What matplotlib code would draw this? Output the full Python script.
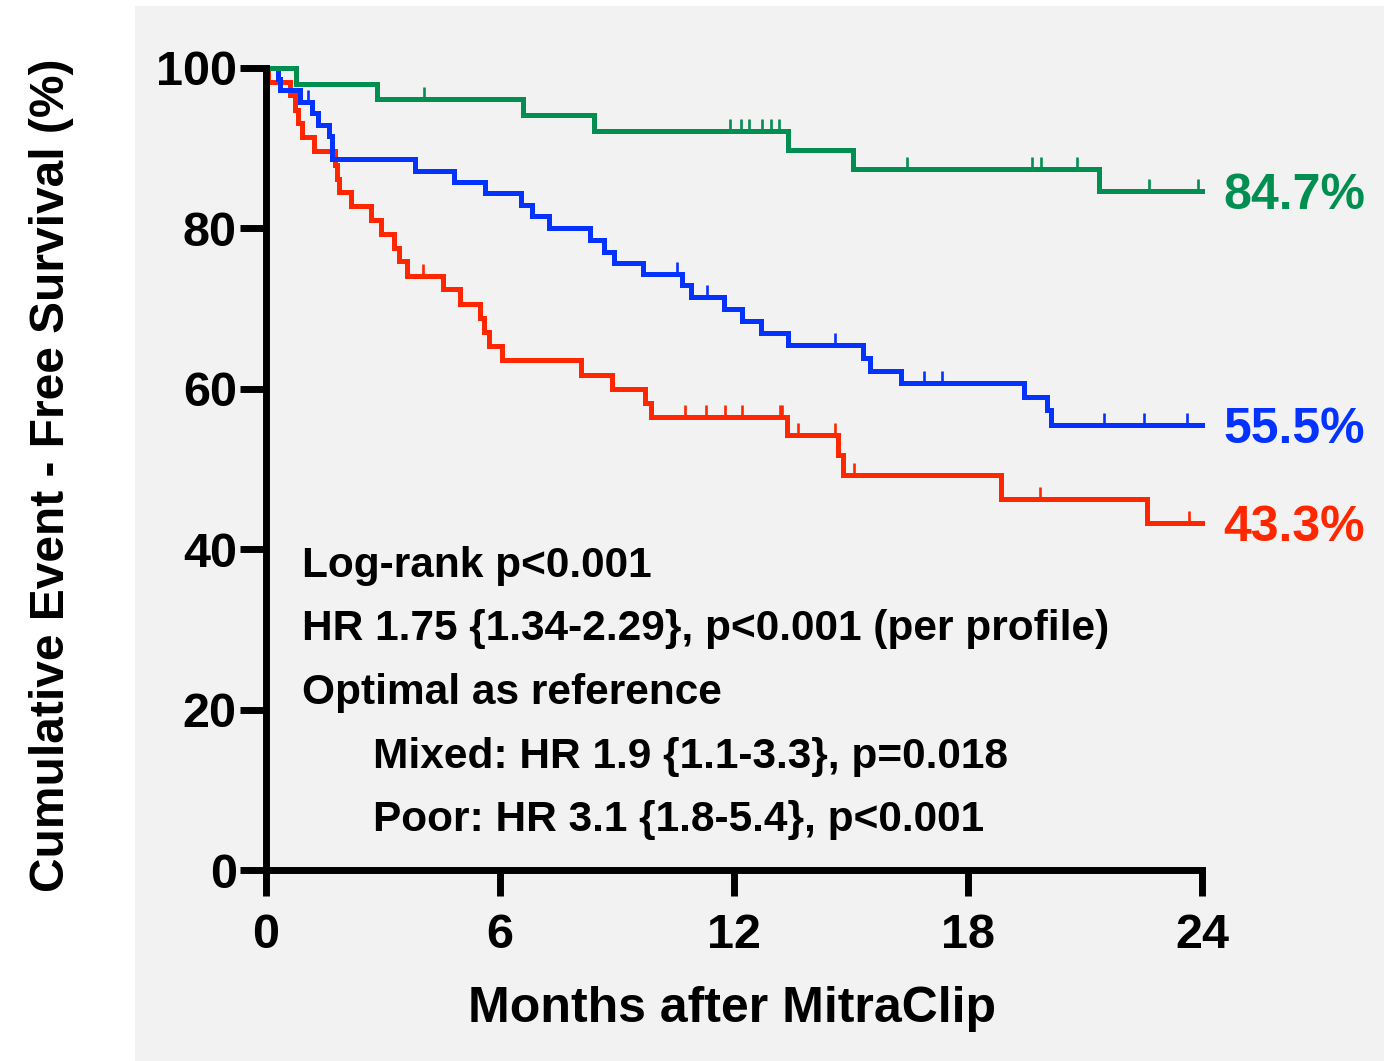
import numpy as np
import matplotlib
matplotlib.use("Agg")
import matplotlib.pyplot as plt
from matplotlib.patches import Rectangle
from matplotlib.transforms import offset_copy

plt.rcParams['font.family'] = ['Liberation Sans', 'DejaVu Sans']
plt.rcParams['font.weight'] = 'bold'

# ---------------- data (months, % event-free) ----------------
optimal_event_t = [0.76, 2.84, 6.60, 8.40, 13.38, 15.05, 21.36]
optimal_event_s = [98.0, 96.1, 94.2, 92.2, 89.8, 87.4, 84.7]
optimal_censor_t = [4.06, 11.91, 12.19, 12.38, 12.71, 12.95, 13.15,
                    16.44, 19.65, 19.88, 20.79, 22.65, 23.89]

mixed_event_t = [0.30, 0.36, 0.87, 1.17, 1.34, 1.62, 1.70, 3.82, 4.81, 5.62,
                 6.54, 6.82, 7.25, 8.30, 8.66, 8.93, 9.67, 10.67, 10.90,
                 11.74, 12.21, 12.70, 13.38, 15.31, 15.48, 16.27, 19.44,
                 20.02, 20.12]
mixed_event_s = [98.6, 97.2, 95.8, 94.4, 92.9, 91.5, 88.7, 87.2, 85.8, 84.4,
                 82.9, 81.5, 80.1, 78.6, 77.1, 75.7, 74.3, 72.9, 71.4,
                 69.9, 68.5, 67.0, 65.5, 63.9, 62.2, 60.7, 59.0,
                 57.3, 55.5]
mixed_censor_t = [1.07, 10.54, 11.31, 14.59, 16.87, 17.34, 21.49, 22.52, 23.61]

poor_event_t = [0.06, 0.62, 0.74, 0.81, 0.92, 1.24, 1.77, 1.81, 1.86, 2.17,
                2.69, 2.94, 3.27, 3.41, 3.61, 4.54, 4.98, 5.49, 5.60, 5.71,
                6.05, 8.07, 8.87, 9.71, 9.86, 13.36, 14.66, 14.80, 18.84,
                22.60]
poor_event_s = [98.3, 96.6, 94.8, 93.1, 91.4, 89.7, 87.9, 86.2, 84.5, 82.8,
                81.0, 79.3, 77.6, 75.9, 74.1, 72.4, 70.6, 68.8, 67.1, 65.3,
                63.6, 61.7, 60.0, 58.2, 56.5, 54.2, 51.7, 49.2, 46.3,
                43.3]
poor_censor_t = [4.02, 10.75, 11.29, 11.76, 12.21, 13.18, 13.24, 13.64,
                 14.58, 15.07, 19.85, 23.67]

end_labels = ['84.7%', '55.5%', '43.3%']
x_ticks = [0, 6, 12, 18, 24]
y_ticks = [0, 20, 40, 60, 80, 100]

GREEN = '#008F51'
BLUE = '#0433FF'
RED = '#FF2600'

W, H = 1399, 1061
fig = plt.figure(figsize=(W / 100, H / 100), dpi=100, facecolor='white')
fig.patches.append(Rectangle((135 / W, 0), (1384 - 135) / W, (H - 6) / H,
                             transform=fig.transFigure, facecolor='#f2f2f2',
                             edgecolor='none', zorder=-10))

ax = fig.add_axes([266 / W, (H - 870) / H, (1202 - 266) / W, (870 - 68) / H])
ax.set_facecolor('none')
ax.set_xlim(0, 24)
ax.set_ylim(0, 100)
for s in ['top', 'right']:
    ax.spines[s].set_visible(False)
for s in ['left', 'bottom']:
    ax.spines[s].set_linewidth(5)
ax.tick_params(axis='both', length=19, width=5, labelsize=35)
ax.tick_params(axis='x', pad=12)
ax.tick_params(axis='y', pad=2)
ax.set_xticks(x_ticks)
ax.set_yticks(y_ticks)
for lab in ax.get_xticklabels() + ax.get_yticklabels():
    lab.set_fontweight('bold')

groups = [
    (poor_event_t, poor_event_s, poor_censor_t, RED, end_labels[2]),
    (mixed_event_t, mixed_event_s, mixed_censor_t, BLUE, end_labels[1]),
    (optimal_event_t, optimal_event_s, optimal_censor_t, GREEN, end_labels[0]),
]

label_tr = offset_copy(ax.transData, fig=fig, x=0, y=-0.358 * 36, units='points')
for et, es, ct, col, lab in groups:
    t = np.array([0.0] + list(et) + [24.0])
    s = np.array([100.0] + list(es) + [es[-1]])
    ax.step(t, s, where='post', color=col, lw=3.6, clip_on=False,
            solid_joinstyle='miter')
    ct = np.array(ct)
    idx = np.searchsorted(t, ct, side='right') - 1
    v = s[idx]
    ax.vlines(ct, v, v + 1.5, color=col, lw=1.9, clip_on=False)
    ax.text(24.54, es[-1], lab, color=col, fontsize=36, fontweight='bold',
            ha='left', va='baseline', transform=label_tr, clip_on=False)

ann = [
    (0.92, 36.53, 'Log-rank p<0.001'),
    (0.92, 28.62, 'HR 1.75 {1.34-2.29}, p<0.001 (per profile)'),
    (0.92, 20.70, 'Optimal as reference'),
    (2.75, 12.78, 'Mixed: HR 1.9 {1.1-3.3}, p=0.018'),
    (2.75, 4.86, 'Poor: HR 3.1 {1.8-5.4}, p<0.001'),
]
for x, y, txt in ann:
    ax.text(x, y, txt, fontsize=30.5, fontweight='bold', ha='left',
            va='baseline', color='black')

fig.text(732 / W, (H - 1022) / H, 'Months after MitraClip', fontsize=36,
         fontweight='bold', ha='center', va='baseline')
fig.text(52 / W, (H - 475) / H, 'Cumulative Event - Free Survival (%)',
         fontsize=34.5, fontweight='bold', rotation=90, ha='center',
         va='center')

fig.savefig('out.png', dpi=100, facecolor='white')
